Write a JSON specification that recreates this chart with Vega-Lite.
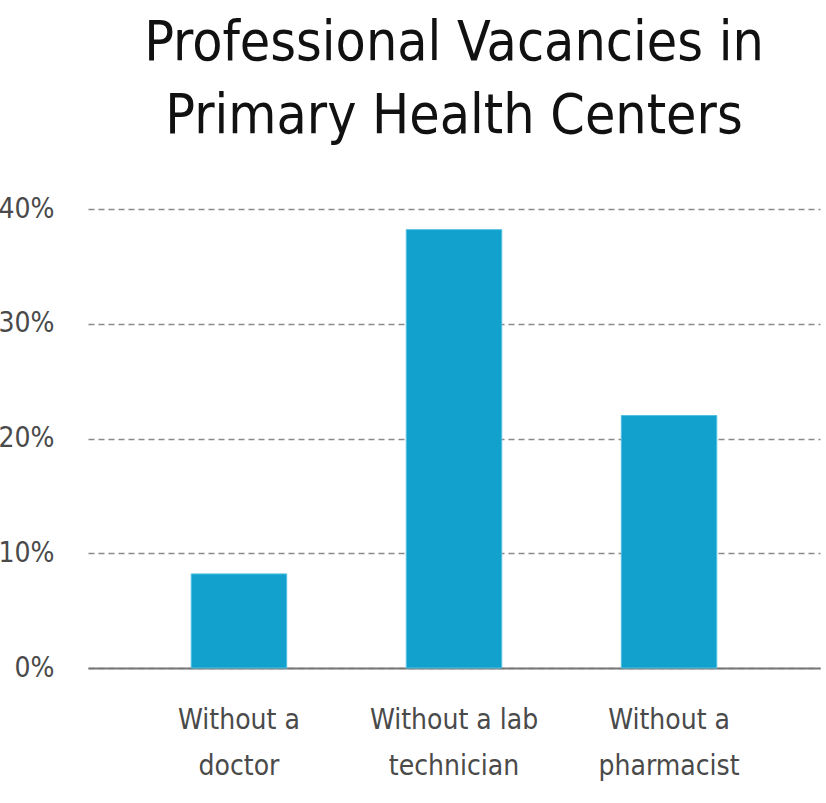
{
  "$schema": "https://vega.github.io/schema/vega-lite/v6.json",
  "width": 732,
  "height": 459,
  "autosize": {"type": "none"},
  "padding": {"left": 88, "top": 209, "right": 6, "bottom": 135},
  "background": "white",
  "title": {
    "text": ["Professional Vacancies in", "Primary Health Centers"],
    "font": "DejaVu Sans Condensed, Roboto",
    "fontSize": 55,
    "fontWeight": "normal",
    "color": "#111111",
    "lineHeight": 73,
    "anchor": "middle",
    "offset": 50
  },
  "data": {
    "values": [
      {"Vacancy": "Without a doctor", "Share": 8.2},
      {"Vacancy": "Without a lab technician", "Share": 38.2},
      {"Vacancy": "Without a pharmacist", "Share": 22.0}
    ]
  },
  "mark": {"type": "bar", "color": "#12A1CD", "stroke": "#4FC0E3", "strokeWidth": 1},
  "encoding": {
    "x": {
      "field": "Vacancy", "type": "nominal", "sort": null, "title": null,
      "scale": {"paddingInner": 0.556, "paddingOuter": 0.48},
      "axis": {
        "labelAngle": 0,
        "labelExpr": "datum.value == 'Without a lab technician' ? ['Without a lab', 'technician'] : [slice(datum.value, 0, 9), slice(datum.value, 10)]",
        "labelFont": "DejaVu Sans Condensed, Roboto",
        "labelFontSize": 28,
        "labelColor": "#4a4a4a",
        "labelLineHeight": 46,
        "labelLimit": 400,
        "labelPadding": 38,
        "ticks": false,
        "domainColor": "#777777",
        "domainWidth": 2
      }
    },
    "y": {
      "field": "Share", "type": "quantitative", "title": null,
      "scale": {"domain": [0, 40]},
      "axis": {
        "values": [0, 10, 20, 30, 40],
        "labelExpr": "datum.value + '%'",
        "labelFont": "DejaVu Sans Condensed, Roboto",
        "labelFontSize": 28,
        "labelColor": "#4a4a4a",
        "labelPadding": 34,
        "domain": false,
        "ticks": false,
        "gridColor": "#8a8a8a",
        "gridDash": [6, 4],
        "gridWidth": 1.3
      }
    }
  },
  "config": {"view": {"stroke": null}}
}
